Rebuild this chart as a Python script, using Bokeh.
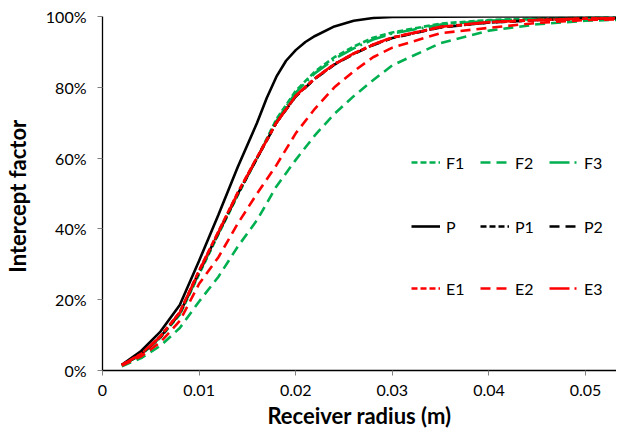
from bokeh.plotting import figure
from bokeh.models import Range1d, FixedTicker, NumeralTickFormatter, Legend, LegendItem
from bokeh.embed import file_html
from bokeh.resources import INLINE

# Receiver radius (m)
radius = [0.002, 0.004, 0.006, 0.008, 0.010, 0.012, 0.014, 0.016, 0.018, 0.020,
          0.022, 0.024, 0.026, 0.028, 0.030, 0.035, 0.040, 0.045, 0.050, 0.055]
radius_P = [0.002, 0.004, 0.006, 0.008, 0.010, 0.012, 0.014, 0.016, 0.017, 0.018,
            0.019, 0.020, 0.021, 0.022, 0.024, 0.026, 0.028, 0.030, 0.040, 0.055]

# Intercept factor (fraction)
P  = [0.016, 0.055, 0.11, 0.185, 0.31, 0.44, 0.575, 0.70, 0.77, 0.83,
      0.875, 0.905, 0.928, 0.945, 0.972, 0.988, 0.996, 0.999, 1.0, 1.0]
F1 = [0.015, 0.044, 0.093, 0.158, 0.272, 0.385, 0.495, 0.60, 0.71, 0.79,
      0.845, 0.885, 0.915, 0.94, 0.955, 0.98, 0.99, 0.994, 0.997, 0.998]
F2 = [0.012, 0.035, 0.07, 0.12, 0.195, 0.265, 0.35, 0.425, 0.52, 0.595,
      0.665, 0.725, 0.775, 0.82, 0.862, 0.925, 0.96, 0.978, 0.988, 0.992]
F3 = [0.015, 0.045, 0.094, 0.16, 0.275, 0.388, 0.498, 0.60, 0.705, 0.785,
      0.84, 0.88, 0.91, 0.935, 0.952, 0.977, 0.988, 0.993, 0.996, 0.998]
P1 = [0.015, 0.046, 0.096, 0.163, 0.28, 0.39, 0.50, 0.60, 0.70, 0.775,
      0.825, 0.865, 0.895, 0.92, 0.94, 0.97, 0.983, 0.99, 0.994, 0.996]
P2 = [0.015, 0.046, 0.095, 0.162, 0.279, 0.389, 0.499, 0.60, 0.70, 0.774,
      0.824, 0.864, 0.894, 0.919, 0.939, 0.969, 0.983, 0.99, 0.994, 0.996]
E1 = [0.016, 0.047, 0.097, 0.165, 0.283, 0.393, 0.503, 0.603, 0.70, 0.775,
      0.825, 0.865, 0.895, 0.92, 0.94, 0.97, 0.984, 0.99, 0.994, 0.996]
E2 = [0.014, 0.04, 0.08, 0.14, 0.245, 0.32, 0.415, 0.50, 0.58, 0.67,
      0.74, 0.80, 0.845, 0.885, 0.912, 0.953, 0.968, 0.982, 0.99, 0.993]
E3 = [0.016, 0.046, 0.096, 0.164, 0.281, 0.391, 0.501, 0.601, 0.70, 0.776,
      0.826, 0.866, 0.896, 0.921, 0.941, 0.971, 0.984, 0.99, 0.994, 0.996]

x_ticks = [0, 0.01, 0.02, 0.03, 0.04, 0.05]
y_ticks = [0, 0.2, 0.4, 0.6, 0.8, 1.0]

GREEN = "#00B050"
RED = "#FF0000"
BLACK = "#000000"
FONT = "Lato"

W, H = 616, 431
TOP, BOTTOM_FRAME, LEFT = 16, 378, 98

p = figure(width=W, height=H, output_backend="svg", toolbar_location=None,
           x_range=Range1d(0, 0.0532), y_range=Range1d(0, 1.0),
           min_border_left=LEFT, min_border_right=0, min_border_top=TOP,
           min_border_bottom=H - BOTTOM_FRAME)
p.outline_line_color = None
p.grid.visible = False

series = [
    ("F1", radius, F1, GREEN, "6 3"),
    ("F2", radius, F2, GREEN, "10 6"),
    ("F3", radius, F3, GREEN, "20 5 2 5"),
    ("P", radius_P, P, BLACK, "solid"),
    ("P1", radius, P1, BLACK, "6 3"),
    ("P2", radius, P2, BLACK, "10 6"),
    ("E1", radius, E1, RED, "6 3"),
    ("E2", radius, E2, RED, "10 6"),
    ("E3", radius, E3, RED, "20 5 2 5"),
]
renderers = {}
for name, xs, ys, col, dash in series:
    renderers[name] = p.line(xs, ys, line_color=col, line_dash=dash, line_width=2.6)

p.xaxis.ticker = FixedTicker(ticks=x_ticks)
p.yaxis.ticker = FixedTicker(ticks=y_ticks)
p.xaxis.formatter = NumeralTickFormatter(format="0.[00]")
p.yaxis.formatter = NumeralTickFormatter(format="0%")
p.xaxis.axis_label = "Receiver radius (m)"
p.yaxis.axis_label = "Intercept  factor"
for ax in (p.xaxis[0], p.yaxis[0]):
    ax.axis_label_text_font = FONT
    ax.axis_label_text_font_style = "bold"
    ax.axis_label_text_font_size = "22px"
    ax.axis_label_text_color = BLACK
    ax.major_label_text_font = FONT
    ax.major_label_text_font_size = "16px"
    ax.major_label_text_color = BLACK
    ax.axis_line_color = BLACK
    ax.axis_line_width = 1.3
    ax.major_tick_line_color = "#808080"
    ax.major_tick_in = 0
    ax.major_tick_out = 5
    ax.minor_tick_line_color = None
p.xaxis.major_label_standoff = 9
p.yaxis.major_label_standoff = 11
p.xaxis.axis_label_standoff = 3
p.yaxis.axis_label_standoff = 12

frame_h = BOTTOM_FRAME - TOP
rows = [["F1", "F2", "F3"], ["P", "P1", "P2"], ["E1", "E2", "E3"]]
row_centers = [170, 234, 296]  # y of row centres
for names, cy in zip(rows, row_centers):
    items = [LegendItem(label=n, renderers=[renderers[n]]) for n in names]
    bottom = frame_h - (cy - TOP) - 10
    leg = Legend(items=items, orientation="horizontal", location=(309, bottom),
                 padding=0, spacing=0, margin=0, glyph_width=29, glyph_height=20,
                 label_standoff=6, label_width=34, label_height=20,
                 label_text_font=FONT, label_text_font_size="16px",
                 label_text_color=BLACK,
                 border_line_color=None, background_fill_alpha=0)
    p.add_layout(leg, "center")

open("out.html", "w").write(file_html(p, INLINE))
